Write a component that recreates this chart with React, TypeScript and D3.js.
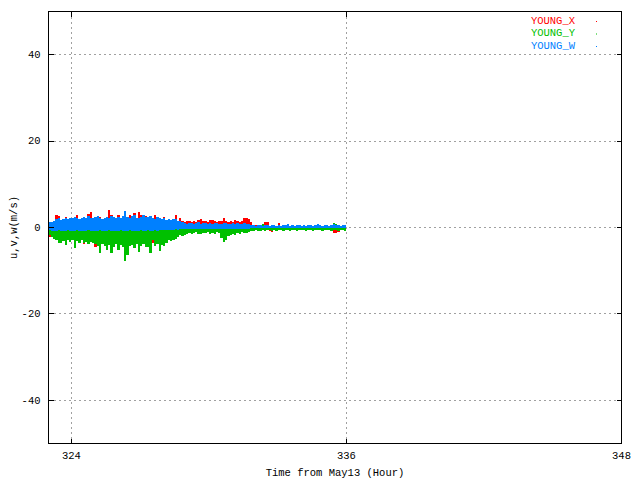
import * as d3 from 'd3'

// 0.1 hour bins starting at hour 323; each array holds the envelope of one series per bin
const startHour = 323
const binHours = 0.1

const xHi = [
  1.0, 1.0, 1.2, 2.9, 2.6, 1.5, 1.7, 2.5, 1.6, 2.0,
  1.8, 2.1, 2.9, 1.7, 2.0, 2.2, 1.9, 3.1, 3.5, 1.8,
  2.1, 2.4, 2.5, 1.6, 2.0, 2.2, 4.0, 2.9, 2.1, 1.9,
  2.8, 2.0, 2.4, 3.0, 2.1, 2.9, 2.3, 3.3, 2.0, 3.5,
  2.9, 2.5, 2.7, 2.1, 2.3, 1.9, 2.8, 2.1, 1.8, 1.6,
  2.4, 1.5, 1.7, 1.4, 1.6, 2.9, 1.3, 2.1, 1.4, 1.3,
  1.5, 1.6, 1.3, 1.4, 1.2, 1.7, 1.9, 1.4, 1.5, 1.3,
  1.8, 1.7, 1.4, 1.3, 1.5, 1.4, 2.1, 1.6, 1.3, 1.4,
  1.2, 1.7, 1.5, 1.3, 1.4, 2.1, 2.2, 2.0, 1.2, 0.3,
  0.5, 0.4, 0.3, 0.3, 1.35, 1.3, 0.3, 0.2, 0.4, 0.3,
  1.0, 0.4, 0.3, 0.2, 0.7, 0.3, 0.4, 0.3, 0.2, 0.5,
  0.3, 0.2, 0.4, 0.3, 0.2, 0.3, 0.5, 0.3, 0.2, 0.3,
  0.4, 0.3, 0.2, 0.3, 0.4, 0.3, 0.2, 0.3, 0.6, 0.4,
]
const xLo = [
  -2.3, -0.5, -0.5, -0.5, -0.5, -0.5, -0.5, -0.5, -0.5, -0.5,
  -0.5, -0.5, -0.5, -0.5, -0.5, -3.8, -0.5, -0.5, -0.5, -0.5,
  -4.4, -0.5, -0.5, -0.5, -0.5, -0.5, -0.5, -0.5, -0.5, -0.5,
  -0.5, -0.5, -0.5, -0.5, -0.5, -0.5, -0.5, -0.5, -0.5, -0.5,
  -0.5, -0.5, -0.5, -0.5, -0.5, -3.6, -0.5, -0.5, -0.5, -0.5,
  -0.4, -0.4, -0.4, -0.4, -0.4, -0.4, -0.4, -0.4, -0.4, -0.4,
  -0.4, -0.4, -0.4, -0.4, -0.4, -0.4, -0.4, -0.4, -0.4, -0.4,
  -0.4, -0.4, -0.4, -0.4, -0.4, -0.4, -0.4, -0.4, -0.4, -0.4,
  -0.4, -0.4, -0.4, -0.4, -0.4, -0.4, -0.4, -0.4, -0.4, -0.3,
  -0.3, -0.3, -0.3, -0.3, -0.3, -0.3, -0.9, -1.0, -0.3, -0.3,
  -0.3, -0.3, -0.3, -0.3, -0.3, -0.3, -0.3, -0.3, -0.3, -0.3,
  -0.3, -0.3, -0.3, -0.3, -0.3, -0.3, -0.3, -0.3, -0.3, -0.3,
  -0.3, -0.3, -0.3, -0.3, -1.2, -1.35, -1.1, -0.6, -0.3, -0.3,
]
const yHi = [
  0.3, 0.3, 0.3, 0.3, 0.3, 0.3, 0.3, 0.3, 0.3, 0.3,
  0.3, 0.3, 0.3, 0.3, 0.3, 0.3, 0.3, 0.3, 0.3, 0.3,
  0.3, 0.3, 0.3, 0.3, 0.3, 0.3, 0.3, 0.3, 0.3, 0.3,
  0.3, 0.3, 0.3, 0.3, 0.3, 0.3, 0.3, 0.3, 0.3, 0.3,
  0.3, 0.3, 0.3, 0.3, 0.3, 0.3, 0.3, 0.3, 0.3, 0.3,
  0.3, 0.3, 0.3, 0.3, 0.3, 0.3, 0.3, 0.3, 0.3, 0.3,
  0.3, 0.3, 0.3, 0.3, 0.3, 0.3, 0.3, 0.3, 0.3, 0.3,
  0.3, 0.3, 0.3, 0.3, 0.3, 0.3, 0.3, 0.3, 0.3, 0.3,
  0.3, 0.3, 0.3, 0.3, 0.3, 0.3, 0.3, 0.3, 0.3, 0.2,
  0.2, 0.2, 0.6, 0.8, 0.2, 0.2, 0.2, 0.2, 0.2, 0.2,
  0.2, 0.2, 0.2, 0.2, 0.2, 0.2, 0.2, 0.2, 0.2, 0.2,
  0.2, 0.2, 0.2, 0.2, 0.2, 0.2, 0.2, 0.2, 0.2, 0.2,
  0.2, 0.2, 0.2, 0.2, 1.0, 0.7, 0.2, 0.2, 0.2, 0.2,
]
const yLo = [
  -1.8, -2.3, -2.6, -3.0, -3.7, -3.7, -3.1, -4.1, -3.0, -3.4,
  -2.9, -4.8, -3.2, -3.7, -3.0, -3.5, -3.3, -3.9, -3.4, -3.6,
  -3.8, -4.2, -6.0, -3.9, -4.3, -5.2, -4.0, -6.0, -4.4, -3.9,
  -5.2, -4.1, -4.6, -7.7, -6.4, -4.3, -4.0, -4.8, -3.9, -5.6,
  -4.2, -3.8, -4.4, -4.5, -6.0, -3.0, -4.2, -3.8, -5.4, -4.0,
  -4.2, -3.5, -3.0, -3.2, -2.8, -2.6, -2.2, -1.8, -1.9, -1.7,
  -1.4, -1.2, -1.5, -1.3, -1.1, -1.4, -1.6, -1.2, -1.3, -1.0,
  -1.5, -1.2, -1.4, -1.1, -1.3, -2.5, -3.3, -3.0, -2.0, -1.8,
  -1.5, -1.7, -1.2, -1.4, -1.0, -1.3, -1.2, -1.0, -0.9, -0.8,
  -0.6, -0.9, -0.7, -0.5, -0.8, -0.6, -0.6, -0.7, -0.5, -0.9,
  -0.6, -0.5, -0.7, -0.6, -0.5, -0.8, -0.6, -0.5, -0.7, -0.6,
  -0.5, -0.6, -0.8, -0.5, -0.6, -0.7, -0.5, -0.6, -0.5, -0.7,
  -0.6, -0.5, -0.6, -0.7, -0.6, -0.6, -0.8, -0.5, -0.6, -0.7,
]
const wHi = [
  1.2, 1.3, 1.5, 1.9, 2.1, 1.8, 2.0, 2.2, 1.9, 2.3,
  2.1, 2.4, 2.2, 2.0, 2.3, 2.5, 2.2, 2.6, 2.3, 2.1,
  2.4, 2.7, 2.2, 1.9, 2.3, 2.5, 2.1, 2.6, 2.4, 2.2,
  2.5, 2.3, 2.7, 3.8, 2.4, 2.2, 2.6, 2.9, 2.3, 2.1,
  2.5, 2.8, 2.4, 2.4, 2.6, 2.2, 2.0, 2.4, 2.1, 1.9,
  2.2, 1.8, 2.0, 1.7, 1.9, 2.0, 1.6, 1.4, 1.2, 1.0,
  0.9, 1.0, 1.1, 0.9, 1.0, 1.2, 0.9, 1.0, 1.1, 0.8,
  1.0, 0.9, 1.1, 1.0, 0.8, 0.9, 1.0, 1.1, 0.9, 0.8,
  1.0, 0.9, 1.1, 0.8, 0.9, 1.0, 0.9, 0.7, 0.6, 0.5,
  0.4, 0.6, 0.5, 0.4, 0.6, 0.5, 0.4, 0.5, 0.6, 0.4,
  0.5, 0.4, 0.6, 0.5, 0.7, 0.4, 0.5, 0.4, 0.5, 0.6,
  0.4, 0.5, 0.4, 0.6, 0.5, 0.4, 0.5, 0.7, 0.5, 0.4,
  0.5, 0.6, 0.4, 0.5, 0.8, 0.6, 0.5, 0.4, 0.5, 0.6,
]
const wLo = [
  -0.6, -0.7, -0.8, -0.7, -0.6, -0.8, -0.7, -0.9, -0.6, -0.7,
  -0.8, -0.7, -0.6, -0.8, -0.7, -0.9, -0.7, -0.6, -0.8, -0.7,
  -0.9, -0.7, -0.6, -0.8, -0.7, -0.8, -0.6, -0.7, -0.9, -0.7,
  -0.8, -0.6, -0.7, -0.8, -0.7, -0.6, -0.8, -0.7, -0.9, -0.7,
  -0.6, -0.8, -0.7, -0.6, -0.8, -0.7, -0.6, -0.7, -0.6, -0.5,
  -0.6, -0.5, -0.6, -0.5, -0.5, -0.4, -0.5, -0.4, -0.4, -0.3,
  -0.4, -0.4, -0.3, -0.4, -0.3, -0.4, -0.4, -0.3, -0.4, -0.3,
  -0.4, -0.4, -0.3, -0.4, -0.3, -0.4, -0.4, -0.3, -0.4, -0.3,
  -0.4, -0.4, -0.3, -0.4, -0.3, -0.4, -0.3, -0.3, -0.2, -0.2,
  -0.2, -0.2, -0.2, -0.2, -0.2, -0.2, -0.2, -0.2, -0.2, -0.2,
  -0.2, -0.2, -0.2, -0.2, -0.2, -0.2, -0.2, -0.2, -0.2, -0.2,
  -0.2, -0.2, -0.2, -0.2, -0.2, -0.2, -0.2, -0.2, -0.2, -0.2,
  -0.2, -0.2, -0.2, -0.2, -0.2, -0.2, -0.2, -0.2, -0.2, -0.2,
]

const seriesNames = ['YOUNG_X', 'YOUNG_Y', 'YOUNG_W']
const seriesColors = ['#ff0000', '#00c000', '#0080ff']
const seriesHi = [xHi, yHi, wHi]
const seriesLo = [xLo, yLo, wLo]

const xTicks = [324, 336, 348]
const yTicks = [-40, -20, 0, 20, 40]

const font = '"Liberation Mono", "DejaVu Sans Mono", monospace'

export default function App() {
  const width = 640
  const height = 480
  const marginLeft = 48.5
  const marginRight = 18.5
  const marginTop = 11.5
  const marginBottom = 36.5
  const tickLen = 5

  const x = d3.scaleLinear([323, 348], [marginLeft, width - marginRight])
  const y = d3.scaleLinear([-50, 50], [height - marginBottom, marginTop])
  const left = x.range()[0]
  const right = x.range()[1]
  const top = y.range()[1]
  const bottom = y.range()[0]
  const snap = (v: number) => Math.round(v - 0.5) + 0.5

  return (
    <svg
      width={width}
      height={height}
      viewBox={`0 0 ${width} ${height}`}
      style={{ position: 'absolute', left: 0, top: 0, background: '#fff' }}
      fontFamily={font}
      fontSize={10.5}
    >
      <rect x={0} y={0} width={width} height={height} fill="#fff" />

      {/* grid */}
      <g stroke="#a0a0a0" strokeWidth={1} strokeDasharray="2,3" shapeRendering="crispEdges">
        {xTicks
          .filter((t) => x(t) < right - 1)
          .map((t) => (
            <line key={`gx${t}`} x1={snap(x(t))} x2={snap(x(t))} y1={top} y2={bottom} />
          ))}
        {yTicks.map((t) => (
          <line key={`gy${t}`} x1={left} x2={right} y1={snap(y(t))} y2={snap(y(t))} />
        ))}
      </g>

      {/* data envelopes, drawn in gnuplot order */}
      <g shapeRendering="crispEdges">
        {seriesHi.map((hi, s) => (
          <g key={seriesNames[s]} fill={seriesColors[s]}>
            {hi.map((v, i) => {
              const t0 = startHour + i * binHours
              const x0 = x(t0)
              const x1 = x(t0 + binHours)
              const lo = seriesLo[s][i]
              return (
                <rect key={i} x={x0} width={x1 - x0} y={y(v)} height={y(lo) - y(v)} />
              )
            })}
          </g>
        ))}
      </g>

      {/* border and ticks */}
      <g stroke="#000" strokeWidth={1} fill="none" shapeRendering="crispEdges">
        <rect x={left} y={top} width={right - left} height={bottom - top} />
        {xTicks.map((t) => (
          <g key={`tx${t}`}>
            <line x1={snap(x(t))} x2={snap(x(t))} y1={bottom} y2={bottom - tickLen} />
            <line x1={snap(x(t))} x2={snap(x(t))} y1={top} y2={top + tickLen} />
          </g>
        ))}
        {yTicks.map((t) => (
          <g key={`ty${t}`}>
            <line x1={left} x2={left + tickLen} y1={snap(y(t))} y2={snap(y(t))} />
            <line x1={right} x2={right - tickLen} y1={snap(y(t))} y2={snap(y(t))} />
          </g>
        ))}
      </g>

      {/* tick labels */}
      <g fill="#000">
        {xTicks.map((t) => (
          <text key={`lx${t}`} x={x(t)} y={bottom + 13} textAnchor="middle" dominantBaseline="middle">
            {t}
          </text>
        ))}
        {yTicks.map((t) => (
          <text key={`ly${t}`} x={left - 8} y={y(t) + 0.5} textAnchor="end" dominantBaseline="middle">
            {t}
          </text>
        ))}
        <text x={(left + right) / 2} y={height - 7} textAnchor="middle" dominantBaseline="middle">
          Time from May13 (Hour)
        </text>
        <text
          transform={`translate(14,${(top + bottom) / 2}) rotate(-90)`}
          textAnchor="middle"
          dominantBaseline="middle"
        >
          u,v,w(m/s)
        </text>
      </g>

      {/* legend */}
      <g>
        {seriesNames.map((name, s) => (
          <g key={name}>
            <text x={575} y={21 + s * 12.5} textAnchor="end" dominantBaseline="middle" fill={seriesColors[s]}>
              {name}
            </text>
            <rect x={596} y={21 + s * 12.5} width={1} height={1} fill={seriesColors[s]} />
          </g>
        ))}
      </g>
    </svg>
  )
}
